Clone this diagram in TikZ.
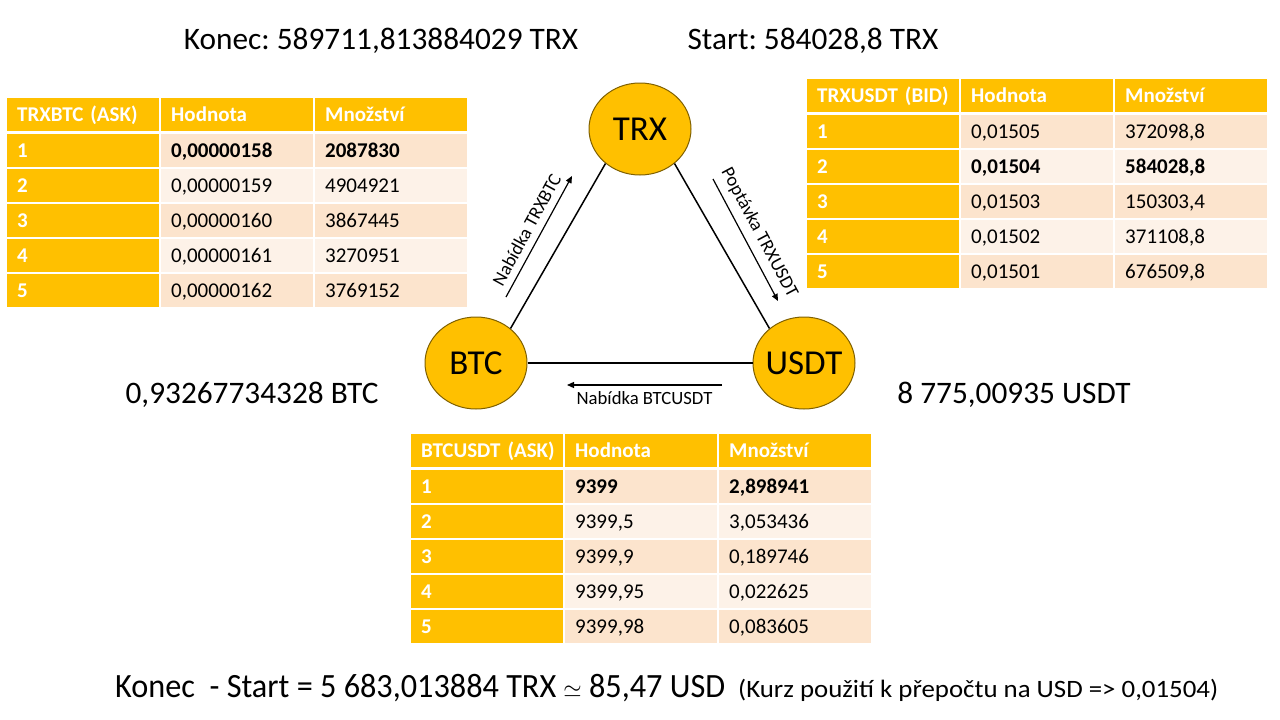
\documentclass[tikz,border=0pt]{standalone}
\usepackage{fontspec}
\setmainfont{Carlito}
\usepackage{xcolor}
\usepackage{tikz}
\usetikzlibrary{positioning, arrows.meta, shapes.geometric}
\definecolor{tOrange}{HTML}{FFC000}
\definecolor{rowA}{HTML}{FCE4CD}
\definecolor{rowB}{HTML}{FDF2E8}
\definecolor{cLine}{HTML}{7F6000}
\newcommand\cellfont{\fontsize{21}{25}\selectfont}
\newcommand\bigfont{\fontsize{31.3}{38}\selectfont}
\newcommand\coinfont{\fontsize{35}{42}\selectfont}
\newcommand\pathfont{\fontsize{18.7}{22}\selectfont}
\frenchspacing
\tikzset{
  cell/.style={minimum height=33pt, text width=132pt, inner xsep=10pt, inner ysep=0pt,
    text height=13.5pt, text depth=0pt, align=left, anchor=north west, font=\cellfont},
  hdcell/.style={cell, fill=tOrange, text=white, font=\cellfont\bfseries},
  keycell/.style={hdcell},
  datcell/.style={cell, text=black},
  best/.style={font=\cellfont\bfseries},
  plain/.style={},
}
\tikzset{
  coin/.style={ellipse, draw=cLine, line width=1pt, fill=tOrange, minimum width=102pt,
    minimum height=92pt, inner sep=-8pt, font=\coinfont},
  leg/.style={line width=1.5pt},
  flowarrow/.style={-{Triangle[length=7pt, width=6pt]}, line width=1.2pt},
  flowlabel/.style={font=\pathfont, inner sep=2pt},
  total/.style={font=\bigfont, anchor=base},
}

\begin{document}
\begin{tikzpicture}[x=1pt, y=-1pt]
  \useasboundingbox (0,0) rectangle (1280,720);

  % TRXBTC table
  \begin{scope}[shift={(7,98)}]
    \node[hdcell] (t1h1) at (0,0) {\mbox{TRXBTC (ASK)}};
    \node[hdcell] (t1h2) at (154,0) {Hodnota};
    \node[hdcell] (t1h3) at (308,0) {Množství};
    \foreach \i/\a/\b/\c/\w in {1/{0,00000158}/2087830/rowA/best, 2/{0,00000159}/4904921/rowB/plain,
        3/{0,00000160}/3867445/rowA/plain, 4/{0,00000161}/3270951/rowB/plain, 5/{0,00000162}/3769152/rowA/plain} {
      \node[keycell] (t1k\i) at (0,{36+35*(\i-1)}) {\i};
      \node[datcell, fill=\c, \w] (t1a\i) at (154,{36+35*(\i-1)}) {\a};
      \node[datcell, fill=\c, \w] (t1b\i) at (308,{36+35*(\i-1)}) {\b};
    }
  \end{scope}

  % TRXUSDT table
  \begin{scope}[shift={(807,79)}]
    \node[hdcell] (t2h1) at (0,0) {\mbox{TRXUSDT (BID)}};
    \node[hdcell] (t2h2) at (154,0) {Hodnota};
    \node[hdcell] (t2h3) at (308,0) {Množství};
    \foreach \i/\a/\b/\c/\w in {1/{0,01505}/{372098,8}/rowA/plain, 2/{0,01504}/{584028,8}/rowB/best,
        3/{0,01503}/{150303,4}/rowA/plain, 4/{0,01502}/{371108,8}/rowB/plain, 5/{0,01501}/{676509,8}/rowA/plain} {
      \node[keycell] (t2k\i) at (0,{36+35*(\i-1)}) {\i};
      \node[datcell, fill=\c, \w] (t2a\i) at (154,{36+35*(\i-1)}) {\a};
      \node[datcell, fill=\c, \w] (t2b\i) at (308,{36+35*(\i-1)}) {\b};
    }
  \end{scope}

  % BTCUSDT table
  \begin{scope}[shift={(411,434)}]
    \node[hdcell] (t3h1) at (0,0) {\mbox{BTCUSDT (ASK)}};
    \node[hdcell] (t3h2) at (154,0) {Hodnota};
    \node[hdcell] (t3h3) at (308,0) {Množství};
    \foreach \i/\a/\b/\c/\w in {1/9399/{2,898941}/rowA/best, 2/{9399,5}/{3,053436}/rowB/plain,
        3/{9399,9}/{0,189746}/rowA/plain, 4/{9399,95}/{0,022625}/rowB/plain, 5/{9399,98}/{0,083605}/rowA/plain} {
      \node[keycell] (t3k\i) at (0,{36+35*(\i-1)}) {\i};
      \node[datcell, fill=\c, \w] (t3a\i) at (154,{36+35*(\i-1)}) {\a};
      \node[datcell, fill=\c, \w] (t3b\i) at (308,{36+35*(\i-1)}) {\b};
    }
  \end{scope}

  % triangle of coins
  \node[coin] (trx) at (640,129) {TRX};
  \node[coin] (btc) at (476,363) {BTC};
  \node[coin] (usdt) at (804,363) {USDT};
  \draw[leg] (btc.45) -- (trx.225);
  \draw[leg] (trx.-45) -- (usdt.135);
  \draw[leg] (btc.east) -- (usdt.west);

  \coordinate (p1) at (506,297);
  \coordinate (q1) at (572,176);
  \coordinate (p2) at (713,179);
  \coordinate (q2) at (778,301);
  \coordinate (p3) at (722,385);
  \coordinate (q3) at (567,385);
  \draw[flowarrow] (p1) -- node[flowlabel, sloped, above=5pt] (l1) {Nabídka TRXBTC} (q1);
  \draw[flowarrow] (p2) -- node[flowlabel, sloped, above=5pt] (l2) {Poptávka TRXUSDT} (q2);
  \draw[flowarrow] (p3) -- node[flowlabel, below=4pt] (l3) {Nabídka BTCUSDT} (q3);

  % amounts
  \node[total] (konec) at (381,49) {Konec: 589711,813884029 TRX};
  \node[total] (start) at (813,49) {Start: 584028,8 TRX};
  \node[total] (btcsum) at (252,403) {0,93267734328 BTC};
  \node[total] (usdtsum) at (1014,403) {8 775,00935 USDT};

  \node[anchor=base west, inner sep=0pt] (gain) at (115,697)
    {\resizebox{610pt}{\height}{\fontsize{34}{40}\selectfont Konec\ \ - Start = 5 683,013884 TRX $\simeq$ 85,47 USD}};
  \node[anchor=base west, inner sep=0pt] (rate) at (738,697)
    {\resizebox{480pt}{\height}{\fontsize{25}{30}\selectfont (Kurz použití k přepočtu na USD => 0,01504)}};
\end{tikzpicture}
\end{document}
